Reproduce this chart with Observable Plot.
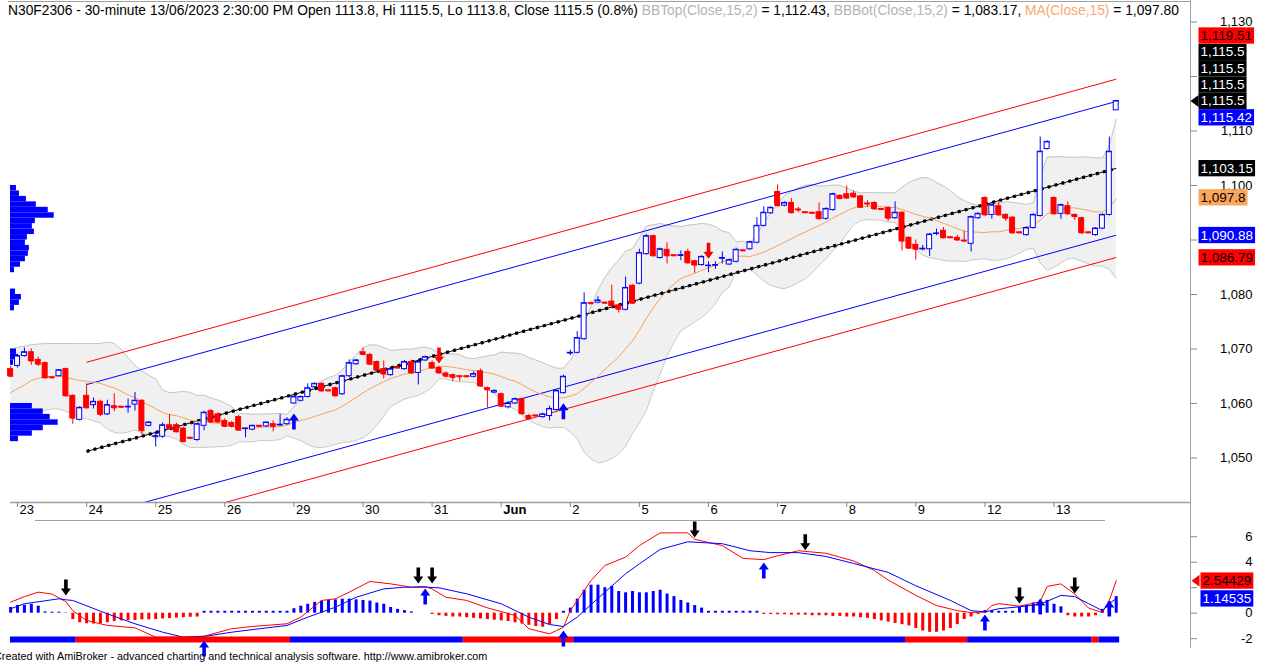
<!DOCTYPE html>
<html>
<head>
<meta charset="utf-8">
<script src="https://cdn.jsdelivr.net/npm/d3@7"></script>
<script src="https://cdn.jsdelivr.net/npm/@observablehq/plot@0.6"></script>
<style>
  html, body { margin: 0; padding: 0; background: #fff; }
  body { font-family: "Liberation Sans", Arial, sans-serif; }
  #wrap { position: relative; width: 1270px; height: 666px; overflow: hidden; background: #fff; }
  #main, #lower { position: absolute; left: 0; }
  #main { top: 0; }
  #lower { top: 520px; }
  #hdr { position: absolute; left: 8px; top: 3px; font-size: 13.8px; color: #000; white-space: nowrap; }
  #cap { position: absolute; left: -6px; top: 650px; font-size: 10.8px; color: #000; white-space: nowrap; }
  .hl { position: absolute; height: 1px; background: #a0a0a0; }
  .vl { position: absolute; width: 1px; background: #a0a0a0; }
</style>
</head>
<body>
<div id="wrap">
  <div id="main"></div>
  <div id="lower"></div>
  <div class="hl" style="left:8px; top:1px; width:1182px;"></div>
  <div class="hl" style="left:35px; top:520px; width:1070px;"></div>
  <div class="vl" style="left:1190px; top:0; height:648px;"></div>
  <div id="hdr">N30F2306 - 30-minute 13/06/2023 2:30:00 PM Open 1113.8, Hi 1115.5, Lo 1113.8, Close 1115.5 (0.8%) <span style="color:#b4b4b4">BBTop(Close,15,2)</span> = 1,112.43, <span style="color:#b4b4b4">BBBot(Close,15,2)</span> = 1,083.17, <span style="color:#f9a86a">MA(Close,15)</span> = 1,097.80</div>
  <div id="cap">Created with AmiBroker - advanced charting and technical analysis software. http://www.amibroker.com</div>
</div>
<script>
// ---------------- DATA ----------------
const dayLabels   = ["23","24","25","26","29","30","31","Jun","2","5","6","7","8","9","12","13"];
const dayFirstBar = [1,11,21,31,41,51,61,71,81,91,101,111,121,131,141,151];

const opens = [
1066.3,
1066.9,1068.7,1069.4,1068.0,1067.4,1064.8,1065.0,1066.3,1061.4,1057.0,
1061.4,1059.7,1060.3,1058.0,1059.5,1059.4,1059.3,1059.8,1060.5,1055.9,
1053.9,1053.9,1056.0,1056.0,1055.4,1053.7,1053.3,1055.9,1058.6,1058.0,
1056.8,1056.4,1057.5,1055.3,1055.2,1055.9,1055.8,1056.2,1056.0,1056.2,
1060.0,1060.5,1061.2,1063.0,1063.6,1062.4,1062.8,1061.7,1065.0,1067.2,
1069.4,1068.9,1067.6,1066.3,1065.2,1066.6,1066.3,1067.6,1065.6,1067.9,
1067.4,1066.5,1065.5,1065.2,1065.0,1065.0,1064.9,1065.9,1062.8,1062.0,
1061.7,1059.3,1060.0,1060.8,1057.7,1057.8,1057.5,1057.7,1058.8,1061.9,
1069.2,1069.3,1071.8,1078.4,1078.5,1078.5,1078.7,1078.0,1077.2,1081.6,
1082.0,1087.4,1090.7,1086.7,1088.2,1087.2,1087.1,1087.8,1086.1,1085.4,
1085.2,1085.3,1086.6,1085.5,1086.0,1088.1,1088.3,1089.5,1092.6,1094.9,
1098.8,1096.3,1096.8,1095.6,1095.1,1095.0,1095.1,1093.9,1095.5,1098.1,
1098.4,1098.5,1098.0,1096.7,1096.8,1095.7,1095.9,1094.0,1095.0,1090.4,
1089.1,1088.3,1088.3,1091.1,1091.7,1090.5,1090.4,1089.9,1089.3,1094.0,
1097.7,1094.6,1096.2,1094.6,1094.1,1091.4,1090.9,1092.2,1094.4,1106.7,
1097.7,1094.8,1096.2,1094.6,1094.0,1091.4,1090.9,1092.1,1094.6,1113.8
];
const highs = [
1066.8,
1069.0,1070.2,1070.0,1068.5,1067.6,1064.9,1066.2,1066.5,1061.6,1059.4,
1063.6,1061.0,1060.6,1060.6,1061.8,1059.5,1060.8,1062.0,1060.7,1056.7,
1054.8,1056.4,1058.0,1056.4,1055.6,1053.8,1056.4,1058.6,1058.9,1058.3,
1057.2,1056.7,1057.8,1055.5,1056.0,1056.0,1056.6,1056.8,1058.0,1057.4,
1061.4,1061.4,1063.6,1063.8,1063.8,1062.5,1063.0,1065.2,1068.0,1068.1,
1070.2,1069.2,1067.8,1067.8,1066.5,1066.7,1067.9,1067.9,1067.9,1068.7,
1067.8,1066.8,1065.8,1065.4,1065.1,1065.1,1065.8,1066.3,1063.0,1062.5,
1061.9,1060.3,1061.0,1061.0,1058.0,1057.9,1058.2,1059.5,1062.5,1065.2,
1069.8,1073.2,1080.3,1078.6,1079.6,1078.6,1081.7,1078.2,1083.2,1081.8,
1088.3,1091.0,1090.9,1088.5,1089.5,1087.3,1088.0,1088.3,1086.3,1087.1,
1086.0,1086.0,1087.8,1086.5,1088.5,1088.2,1089.8,1094.1,1096.1,1096.1,
1100.1,1097.0,1097.6,1096.0,1095.2,1095.1,1096.8,1095.9,1098.6,1098.3,
1099.9,1099.0,1098.2,1097.2,1097.0,1095.8,1096.1,1097.0,1095.2,1090.6,
1090.0,1089.0,1091.2,1092.0,1092.3,1090.6,1090.9,1091.6,1094.4,1095.0,
1097.9,1096.6,1097.0,1094.8,1094.3,1091.5,1092.4,1094.8,1108.9,1108.2,
1097.9,1096.6,1097.0,1094.8,1094.2,1091.5,1092.3,1094.8,1108.9,1115.5
];
const lows = [
1064.8,
1066.5,1068.5,1067.0,1066.8,1064.5,1064.6,1064.9,1061.2,1056.2,1056.8,
1059.0,1059.0,1057.6,1057.8,1058.5,1059.2,1058.2,1058.6,1054.2,1055.7,
1052.0,1053.6,1055.2,1054.6,1052.8,1053.5,1053.0,1055.0,1056.3,1056.4,
1055.6,1055.5,1054.9,1053.7,1055.0,1055.7,1055.6,1054.8,1055.8,1056.0,
1059.8,1060.3,1061.0,1062.8,1062.1,1062.2,1061.2,1061.5,1064.8,1067.0,
1068.8,1067.0,1065.9,1064.5,1065.0,1066.4,1066.1,1065.4,1063.4,1067.7,
1066.3,1065.4,1064.8,1064.0,1064.0,1064.8,1064.7,1063.0,1059.2,1061.8,
1059.3,1059.0,1059.8,1057.9,1057.0,1057.6,1057.3,1056.8,1058.6,1061.7,
1068.8,1069.1,1071.6,1078.2,1078.3,1078.3,1077.6,1076.6,1077.0,1078.2,
1081.8,1087.2,1086.9,1086.5,1085.6,1087.0,1086.2,1085.6,1083.9,1085.2,
1084.0,1084.6,1085.6,1085.3,1085.8,1087.9,1088.1,1089.3,1092.4,1094.7,
1096.1,1096.1,1094.8,1095.0,1094.9,1094.8,1093.7,1093.6,1095.3,1097.4,
1097.5,1097.7,1095.8,1096.0,1095.5,1095.5,1093.4,1093.8,1088.0,1088.3,
1086.3,1088.0,1087.0,1090.8,1090.2,1090.3,1089.8,1089.6,1087.8,1093.8,
1094.4,1093.8,1094.4,1093.4,1091.1,1091.2,1090.7,1092.0,1094.2,1106.5,
1094.6,1093.8,1094.6,1093.6,1091.1,1091.2,1090.7,1091.9,1094.4,1113.8
];
const closes = [
1065.0,
1068.7,1069.4,1067.8,1067.2,1064.7,1064.7,1066.1,1061.4,1057.3,1059.2,
1059.2,1060.3,1058.0,1059.7,1059.2,1059.3,1059.4,1060.5,1055.0,1056.5,
1054.0,1056.0,1055.4,1054.8,1053.0,1053.6,1056.2,1058.3,1056.6,1056.6,
1055.8,1055.8,1055.1,1055.4,1055.9,1055.8,1056.5,1055.8,1056.1,1057.0,
1061.2,1061.2,1062.8,1063.6,1062.3,1062.3,1061.4,1065.0,1067.4,1067.9,
1069.0,1067.2,1066.1,1065.4,1066.3,1066.5,1067.6,1065.6,1067.6,1068.5,
1066.5,1065.6,1065.0,1064.8,1064.9,1064.9,1065.4,1063.2,1062.5,1062.3,
1059.5,1060.0,1060.8,1058.1,1057.2,1057.7,1058.0,1059.0,1062.3,1064.9,
1069.3,1072.0,1078.4,1078.3,1078.9,1078.4,1077.9,1077.3,1081.2,1078.4,
1087.6,1090.7,1087.1,1088.3,1087.1,1087.1,1087.2,1085.8,1085.4,1086.9,
1085.3,1085.4,1086.7,1086.3,1088.2,1088.0,1089.6,1092.6,1095.0,1095.9,
1096.3,1096.8,1095.0,1095.5,1095.0,1094.9,1093.9,1095.7,1098.4,1097.6,
1097.7,1097.9,1096.0,1096.6,1095.7,1095.6,1094.0,1095.0,1089.8,1088.5,
1088.3,1088.4,1091.0,1091.2,1090.4,1090.4,1090.0,1089.8,1094.2,1094.8,
1094.6,1096.4,1094.6,1094.0,1091.3,1091.3,1092.2,1094.6,1106.2,1108.0,
1094.8,1096.4,1094.8,1094.3,1091.3,1091.3,1092.1,1094.6,1106.2,1115.5
];

// Bollinger / MA values for the bars before a full 15-bar window exists
const bbTopStart = [1070.0,1070.3,1070.5,1070.8,1070.9,1071.0,1071.0,1071.0,1071.0,1071.0,1071.0,1071.0,1071.0,1071.0];
const maStart    = [1062.0,1062.7,1063.4,1064.2,1064.6,1064.9,1065.0,1065.0,1064.8,1064.5,1064.2,1064.1,1063.9,1063.7];
const bbBotStart = [1054.0,1055.1,1056.3,1057.6,1058.3,1058.8,1059.0,1059.0,1058.6,1058.0,1057.4,1057.2,1056.8,1056.4];
const bbPeriod = 15, bbWidth = 2;

// linear regression channel
const regBars   = [11, 160];
const regValues = [1051.2, 1103.15];
const channelOffsets = [16.36, 12.27, -12.27, -16.36];

// volume-at-price profile (relative volume per 1-point bin)
const vpPrice  = [1099,1098,1097,1096,1095,1094,1093,1092,1091,1090,1089,1088,1087,1086,1085,1084,1080,1079,1078,1077,1069,1068,1067,1059,1058,1057,1056,1055,1054,1053];
const vpVolume = [6,9,16,26,38,44,25,22,24,17,15,19,18,15,10,4,5,11,9,4,6,7,3,22,33,40,48,33,22,8];

// signal arrows on the price chart
const priceUpArrows   = [41, 80];
const priceDownArrows = [62, 101];

// right-axis value labels
const priceTicks = [1050,1060,1070,1080,1090,1100,1110,1120,1130];
const priceLabelValues = [1115.5,1115.5,1115.5,1115.5,1115.42,1119.51,1103.15,1097.8,1090.88,1086.79];
const priceLabelKinds  = ["close","close","close","close","inner","outer","reg","ma","inner","outer"];

// ---- lower indicator panel ----
const redLine = [[0,0.86],[2,1.3],[4,1.65],[6,1.5],[7,1.2],[8,0.9],[9,0.2],[11,-0.57],[14,-0.96],[18,-1.15],[21,-1.88],[25,-1.88],[28,-1.8],[32,-1.22],[35,-1.04],[40,-0.83],[42,-0.31],[45,1.0],[47,1.13],[49,1.65],[52,2.49],[55,2.3],[58,2.04],[60,2.1],[61,1.9],[63,1.25],[66,1.0],[69,0.42],[73,-0.18],[75,-1.22],[78,-1.62],[79,-1.36],[80,-1.1],[81,0.2],[84,2.56],[86,3.74],[89,4.4],[91,5.3],[94,6.3],[98,6.3],[99,5.8],[103,5.3],[106,4.3],[109,4.2],[111,4.5],[114,4.9],[118,4.7],[122,4.1],[125,3.35],[127,2.6],[131,1.4],[134,0.6],[137,0.2],[139,0.05],[141,0.1],[142,0.6],[143,0.75],[146,0.55],[149,0.9],[150,2.1],[152,2.3],[154,1.5],[156,0.4],[158,0.05],[159,1.0],[160,2.54429]];
const blueLine = [[0,0.35],[2,0.74],[7,1.13],[8,1.05],[9,1.0],[14,-0.05],[18,-0.83],[22,-1.49],[25,-1.88],[28,-1.83],[32,-1.49],[36,-1.22],[40,-0.96],[43,-0.31],[47,0.47],[50,1.25],[54,1.91],[57,2.04],[60,2.04],[62,1.99],[66,1.52],[71,0.74],[75,-0.31],[78,-0.89],[80,-1.04],[82,-0.31],[86,1.65],[89,3.09],[91,3.87],[94,5.0],[98,5.6],[103,5.45],[107,4.9],[110,4.75],[114,4.75],[118,4.45],[122,3.9],[127,3.2],[131,2.15],[136,1.0],[139,0.2],[141,0.1],[143,0.35],[146,0.5],[149,0.7],[152,1.4],[154,1.3],[156,0.75],[158,0.2],[159,0.75],[160,1.14535]];
const histogram = [
0.45,0.6,0.62,0.7,0.55,0.1,0.08,0.08,0.03,
-0.5,-0.75,-0.83,-0.85,-0.83,-0.75,-0.65,-0.6,-0.58,-0.57,-0.52,-0.52,-0.5,-0.45,-0.42,-0.38,-0.35,-0.32,-0.3,
0.15,0.15,0.15,0.15,0.15,0.15,0.15,0.15,0.15,0.15,0.15,0.15,0.15,
0.35,0.55,0.7,0.85,0.95,1.0,1.05,1.1,1.1,1.05,1.0,0.95,0.8,0.7,0.45,0.3,0.2,
0.1,0,0,
-0.1,-0.2,-0.25,-0.3,-0.3,-0.35,-0.4,-0.45,-0.5,-0.55,-0.6,-0.65,-0.75,-0.85,-0.95,-1.05,-1.1,-0.9,-0.5,
0.15,0.4,1.1,1.8,2.2,2.2,2.0,2.1,1.7,1.6,1.7,1.6,
1.6,1.7,1.8,1.5,1.3,1.0,0.8,0.6,0.4,
0.15,0.15,0.15,0.15,0.15,0.15,0.15,0.15,
-0.1,-0.1,-0.12,-0.12,-0.15,-0.15,-0.15,-0.2,-0.2,-0.2,-0.25,-0.25,-0.3,-0.3,-0.35,-0.4,-0.5,-0.6,-0.7,-0.8,
-0.9,-1.0,-1.2,-1.4,-1.5,-1.5,-1.4,-1.2,-0.9,
-0.5,-0.3,-0.1,
0.2,0.2,0.15,0.15,0.15,
0.5,0.6,0.8,0.9,1.0,
0.7,0.5,
-0.2,-0.3,-0.3,-0.3,-0.2,
0.3,0.9,1.3
];
const stripStart = [0,10,41,66,82,130,139,157,158];
const stripEnd   = [9,40,65,81,129,138,156,157,160];
const stripSign  = [1,-1,1,-1,1,-1,1,-1,1];
const indDownArrows = [[8,1.15],[59,2.1],[61,2.1],[99,5.7],[115,4.7],[146,0.52],[154,1.3]];
const indUpArrows   = [[28,-1.9],[60,2.18],[80,-1.12],[109,4.22],[141,0.14],[149,1.39],[159,1.24]];
const indTicks = [-2,0,2,4,6];
const indLabelValues = [2.54429, 1.14535];
const indLabelKinds  = ["red","blue"];

// ---------------- STYLE / LAYOUT ----------------
const BLUE = "#0000ff", RED = "#ff0000";
const FONT = "Liberation Sans, Arial, sans-serif";
const W = 1270;
const xDomain = [-0.015, 170.75];
const mainH = 520, mainTop = 3, mainBottom = 502;
const yDomainMain = [1041.83, 1133.4];
const lowH = 146, lowTop = 2, lowBottom = 128;
const yDomainLow = [-2.769, 7.114];
const stripBand = [-2.337, -1.867];
const labelH = 16.3;

const upArrow = { draw(ctx) { ctx.moveTo(0,0); ctx.lineTo(5,7); ctx.lineTo(1.8,7); ctx.lineTo(1.8,16); ctx.lineTo(-1.8,16); ctx.lineTo(-1.8,7); ctx.lineTo(-5,7); ctx.closePath(); } };
const downArrow = { draw(ctx) { ctx.moveTo(0,0); ctx.lineTo(5,-7); ctx.lineTo(1.8,-7); ctx.lineTo(1.8,-16); ctx.lineTo(-1.8,-16); ctx.lineTo(-1.8,-7); ctx.lineTo(-5,-7); ctx.closePath(); } };
const leftTip = { draw(ctx) { ctx.moveTo(-4,0); ctx.lineTo(4,-6); ctx.lineTo(4,6); ctx.closePath(); } };

// ---------------- DERIVED ----------------
const n = closes.length;
const bars = closes.map((c, i) => {
  const up = c >= opens[i];
  return {i, o: opens[i], h: highs[i], l: lows[i], c, col: up ? BLUE : RED, fill: up ? "#ffffff" : RED};
});
const bb = d3.range(n).map(i => {
  if (i < bbTopStart.length) return {i, top: bbTopStart[i], bot: bbBotStart[i], ma: maStart[i]};
  const w = closes.slice(i - bbPeriod + 1, i + 1);
  const m = d3.mean(w);
  const sd = Math.sqrt(d3.mean(w, v => (v - m) ** 2));
  return {i, top: m + bbWidth * sd, bot: m - bbWidth * sd, ma: m};
});
const channels = channelOffsets.map(off => ({
  x1: regBars[0], x2: regBars[1], y1: regValues[0] + off, y2: regValues[1] + off,
  color: Math.abs(off) > 14 ? RED : BLUE
}));
const vpMax = d3.max(vpVolume);
const vp = vpPrice.map((p, k) => ({p, v: vpVolume[k]}));
const days = dayLabels.map((label, k) => ({label, i: dayFirstBar[k]}));

const labelStyle = {
  close: {bg: "#000000", fg: "#ffffff"},
  inner: {bg: BLUE, fg: "#ffffff"},
  outer: {bg: RED, fg: "#000000"},
  reg:   {bg: "#000000", fg: "#ffffff"},
  ma:    {bg: "#fca55c", fg: "#000000"},
  red:   {bg: RED, fg: "#000000"},
  blue:  {bg: BLUE, fg: "#ffffff"}
};

// stack value labels on the axis without overlap (pixel space, y grows downward)
function placeLabels(values, kinds, scale, fmt) {
  const placed = [];
  const free = y => placed.every(p => Math.abs(p - y) >= labelH - 0.01);
  return values.map((v, k) => {
    const y0 = scale.apply(v);
    let y = y0;
    const sameBefore = values.slice(0, k).some(u => u === v);
    if (sameBefore) { while (!free(y)) y -= labelH; }
    else {
      for (let d = 0; d < 600; d += 0.25) {
        if (free(y0 - d)) { y = y0 - d; break; }
        if (free(y0 + d)) { y = y0 + d; break; }
      }
    }
    placed.push(y);
    const st = labelStyle[kinds[k]];
    return {v, py: y, y: scale.invert(y), text: fmt(v), bg: st.bg, fg: st.fg};
  });
}
// tick labels that sit under a value-label box are hidden, as on the axis of the original
const visibleTicks = (ticks, scale, labels) =>
  ticks.filter(t => labels.every(l => Math.abs(scale.apply(t) - l.py) > labelH / 2 + 1));

const yMainScale = Plot.scale({y: {domain: yDomainMain, range: [mainBottom, mainTop]}});
const yLowScale  = Plot.scale({y: {domain: yDomainLow, range: [lowBottom, lowTop]}});
const priceLabels = placeLabels(priceLabelValues, priceLabelKinds, yMainScale, d3.format(","));
const indLabels   = placeLabels(indLabelValues, indLabelKinds, yLowScale, d3.format(".5f"));
const priceTickText = visibleTicks(priceTicks, yMainScale, priceLabels);
const indTickText   = visibleTicks(indTicks, yLowScale, indLabels);

// ---------------- MAIN PRICE CHART ----------------
const mainPlot = Plot.plot({
  width: W, height: mainH,
  marginLeft: 10, marginRight: 80, marginTop: mainTop, marginBottom: mainH - mainBottom,
  x: {type: "linear", domain: xDomain, axis: null},
  y: {type: "linear", domain: yDomainMain, axis: null},
  color: {type: "identity"},
  style: {fontFamily: FONT, fontSize: "12px", background: "transparent", color: "#000"},
  marks: [
    Plot.areaY(bb, {x: "i", y1: "bot", y2: "top", fill: "#f0f0f0"}),
    Plot.line(bb, {x: "i", y: "top", stroke: "#c6c6c6", strokeWidth: 1}),
    Plot.line(bb, {x: "i", y: "bot", stroke: "#c6c6c6", strokeWidth: 1}),
    Plot.rect(vp, {x1: () => xDomain[0], x2: d => xDomain[0] + d.v / vpMax * 6.9, y1: "p", y2: d => d.p + 1, fill: BLUE}),
    Plot.link(channels, {x1: "x1", x2: "x2", y1: "y1", y2: "y2", stroke: "color", strokeWidth: 1, clip: true}),
    Plot.link([0], {x1: () => regBars[0], x2: () => regBars[1], y1: () => regValues[0], y2: () => regValues[1], stroke: "#000", strokeWidth: 1}),
    Plot.link([0], {x1: () => regBars[0], x2: () => regBars[1], y1: () => regValues[0], y2: () => regValues[1], stroke: "#000", strokeWidth: 3.2, strokeDasharray: "3,4.17"}),
    Plot.line(bb, {x: "i", y: "ma", stroke: "#f7a35c", strokeWidth: 1}),
    Plot.ruleX(bars, {x: "i", y1: "l", y2: "h", stroke: "col", strokeWidth: 1}),
    Plot.rect(bars, {x1: d => d.i - 0.36, x2: d => d.i + 0.36, y1: "o", y2: "c", fill: "fill", stroke: "col", strokeWidth: 1}),
    Plot.link(bars, {x1: d => d.i - 0.36, x2: d => d.i + 0.36, y1: "c", y2: "c", stroke: "col", strokeWidth: 1}),
    Plot.dot(priceUpArrows, {x: d => d, y: d => lows[d], symbol: upArrow, fill: BLUE, stroke: "none", dy: 9}),
    Plot.dot(priceDownArrows, {x: d => d, y: d => highs[d], symbol: downArrow, fill: RED, stroke: "none", dy: -3}),
    // axes
    Plot.ruleY([yDomainMain[0]], {stroke: "#a0a0a0", strokeWidth: 1.5}),
    Plot.axisX(dayFirstBar, {anchor: "bottom", tickSize: 5, tickFormat: () => "", stroke: "#888"}),
    Plot.text(days.filter(d => d.label !== "Jun"), {x: "i", text: "label", frameAnchor: "bottom", dy: 11, dx: 2, textAnchor: "start", fontSize: 13, fill: "#000"}),
    Plot.text(days.filter(d => d.label === "Jun"), {x: "i", text: "label", frameAnchor: "bottom", dy: 11, dx: 2, textAnchor: "start", fontSize: 13, fontWeight: "bold", fill: "#000"}),
    Plot.axisY(priceTicks, {anchor: "right", tickSize: 6, tickFormat: () => "", stroke: "#888"}),
    Plot.text(priceTickText, {y: d => d, text: d => d3.format(",")(d), frameAnchor: "right", dx: 62, textAnchor: "end", fontSize: 13, fill: "#000"}),
    Plot.dot([priceLabelValues[0]], {y: d => d, frameAnchor: "right", dx: 4, symbol: leftTip, fill: "#000", stroke: "none"}),
    Plot.text(priceLabels, {y: "y", text: "text", frameAnchor: "right", dx: 10, textAnchor: "start", fontSize: 13.5, fill: "fg"})
  ]
});
document.getElementById("main").appendChild(mainPlot);

// ---------------- LOWER INDICATOR ----------------
const hist = histogram.map((v, i) => ({i, v}));
const strip = stripStart.map((s, k) => ({s, e: stripEnd[k], color: stripSign[k] > 0 ? BLUE : RED}));
const lowPlot = Plot.plot({
  width: W, height: lowH,
  marginLeft: 10, marginRight: 80, marginTop: lowTop, marginBottom: lowH - lowBottom,
  x: {type: "linear", domain: xDomain, axis: null},
  y: {type: "linear", domain: yDomainLow, axis: null},
  color: {type: "identity"},
  style: {fontFamily: FONT, fontSize: "12px", background: "transparent", color: "#000", overflow: "visible"},
  marks: [
    Plot.ruleX(hist.filter(d => d.v !== 0), {x: "i", y1: () => 0, y2: "v", stroke: d => d.v > 0 ? BLUE : RED, strokeWidth: 3}),
    Plot.line(redLine, {x: d => d[0], y: d => d[1], stroke: RED, strokeWidth: 1}),
    Plot.line(blueLine, {x: d => d[0], y: d => d[1], stroke: BLUE, strokeWidth: 1}),
    Plot.rect(strip, {x1: d => d.s - 0.5, x2: d => d.e + 0.5, y1: () => stripBand[0], y2: () => stripBand[1], fill: "color", clip: true}),
    Plot.dot(indDownArrows, {x: d => d[0], y: d => d[1], symbol: downArrow, fill: "#000", stroke: "none", dy: -3}),
    Plot.dot(indUpArrows, {x: d => d[0], y: d => d[1], symbol: upArrow, fill: BLUE, stroke: "none", dy: 3}),
    Plot.axisY(indTicks, {anchor: "right", tickSize: 6, tickFormat: () => "", stroke: "#888"}),
    Plot.text(indTickText, {y: d => d, text: d => String(d), frameAnchor: "right", dx: 62, textAnchor: "end", fontSize: 13, fill: "#000"}),
    Plot.dot([indLabelValues[0]], {y: d => d, frameAnchor: "right", dx: 5, symbol: leftTip, fill: RED, stroke: "none"}),
    Plot.text(indLabels, {y: "y", text: "text", frameAnchor: "right", dx: 12, textAnchor: "start", fontSize: 13.5, fill: "fg"})
  ]
});
document.getElementById("lower").appendChild(lowPlot);

// label backgrounds (boxes sized from the rendered text)
function addBackgrounds(svg, items) {
  const texts = Array.from(svg.querySelectorAll("text"));
  const used = new Set();
  for (const it of items) {
    const t = texts.find(t => !used.has(t) && t.textContent === it.text);
    if (!t) continue;
    used.add(t);
    const b = t.getBBox();
    const r = document.createElementNS("http://www.w3.org/2000/svg", "rect");
    r.setAttribute("x", b.x - 2);
    r.setAttribute("width", b.width + 4);
    r.setAttribute("y", b.y + b.height / 2 - labelH / 2);
    r.setAttribute("height", labelH);
    r.setAttribute("fill", it.bg);
    const tr = t.getAttribute("transform");
    if (tr) r.setAttribute("transform", tr);
    t.parentNode.insertBefore(r, t);
  }
}
addBackgrounds(mainPlot, priceLabels);
addBackgrounds(lowPlot, indLabels);
</script>
</body>
</html>
